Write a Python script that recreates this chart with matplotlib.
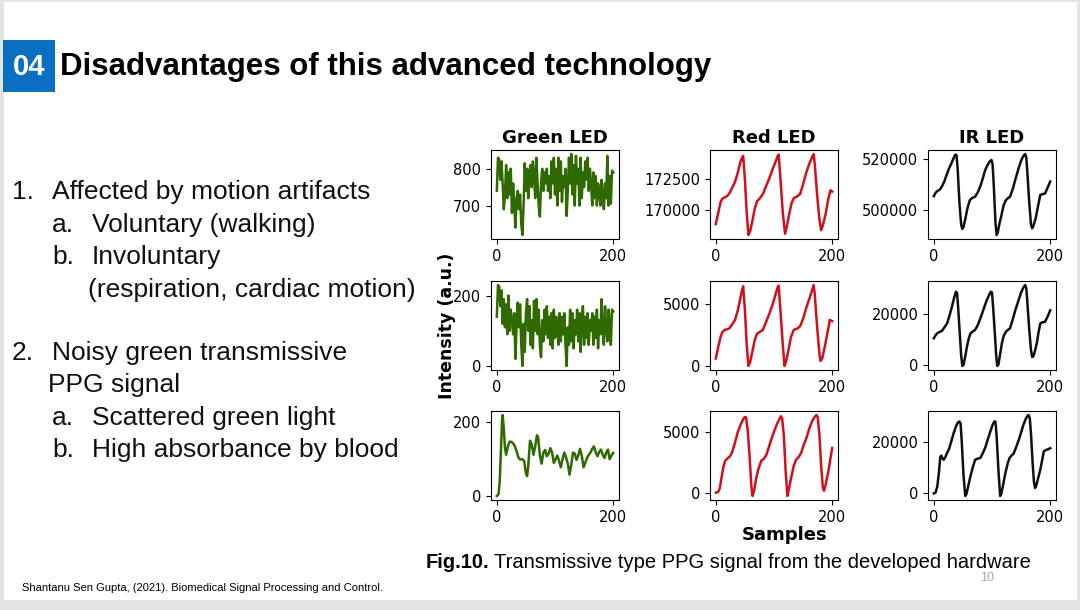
import numpy as np
import matplotlib
matplotlib.use("Agg")
import matplotlib.pyplot as plt
from matplotlib.patches import Rectangle

W, H = 1080, 610

# ---- data (sample index, intensity) ----
samples_green = list(range(0, 201, 2))
green_raw = [740, 830, 825, 770, 820, 760, 690, 730, 810, 720,
             790, 730, 800, 680, 760, 700, 640, 720, 740, 690,
             730, 650, 620, 700, 815, 740, 800, 720, 790, 810,
             750, 820, 780, 720, 830, 760, 700, 670, 760, 800,
             740, 790, 760, 800, 740, 780, 720, 820, 760, 830,
             730, 800, 700, 830, 740, 820, 710, 780, 750, 800,
             672, 740, 830, 760, 840, 730, 810, 700, 835, 760,
             800, 700, 830, 720, 790, 750, 820, 770, 830, 740,
             800, 760, 700, 790, 720, 780, 700, 760, 740, 700,
             770, 730, 690, 760, 720, 835, 700, 780, 705, 795, 790]
green_detrend = [140, 230, 225, 170, 215, 120, 190, 110, 175, 90,
                 200, 100, 160, 130, 90, 150, 20, 120, 180, 110,
                 175, 60, 0, 120, 40, 150, 190, 100, 170, 60,
                 130, 50, 185, 100, 190, 90, 160, 60, 25, 130,
                 70, 160, 90, 170, 80, 140, 60, 150, 50, 160,
                 80, 140, 100, 60, 150, 70, 140, 90, 150, 60,
                 0, 110, 60, 160, 70, 150, 50, 130, 90, 160,
                 70, 150, 40, 130, 170, 60, 140, 80, 150, 60,
                 130, 100, 150, 60, 140, 80, 160, 50, 130, 90,
                 190, 100, 60, 170, 110, 70, 160, 120, 60, 160, 155]
samples_green_f = [0, 3, 5, 7, 9, 10, 12, 14, 16, 19, 22, 25, 28, 31, 34, 37, 40, 44, 47, 50,
                   52, 54, 57, 60, 63, 66, 69, 71, 74, 77, 80, 83, 86, 89, 92, 95, 98, 101, 104, 107,
                   110, 113, 116, 119, 122, 125, 128, 131, 134, 137, 140, 143, 146, 149, 152, 155, 158,
                   161, 164, 167, 170, 173, 176, 179, 182, 185, 188, 191, 194, 197, 200]
green_filt = [0, 5, 40, 120, 205, 220, 185, 130, 112, 135, 148, 147, 143, 135, 122, 105, 99, 100, 95, 62,
              54, 80, 150, 140, 112, 135, 165, 160, 110, 88, 118, 125, 108, 115, 130, 118, 90, 100, 110, 95,
              78, 100, 118, 105, 88, 58, 85, 118, 115, 98, 110, 128, 110, 78, 90, 103, 112,
              118, 128, 135, 118, 108, 120, 126, 112, 103, 118, 126, 100, 110, 117]

samples_red_raw = [0, 4, 8, 11, 15, 20, 24, 29, 33, 38, 42, 45, 47, 50, 53, 56, 59, 63, 67, 71, 76, 81, 86,
                   92, 98, 103, 106, 108, 111, 115, 119, 122, 126, 130, 134, 140, 145, 150, 155, 160, 165,
                   168, 170, 174, 178, 181, 184, 189, 193, 197, 200]
red_raw = [168800, 169700, 170600, 170900, 171000, 171150, 171400, 171900, 172300, 173100, 173900,
           174300, 174450, 172500, 169800, 167900, 168200, 169100, 170100, 170700, 170950, 171300,
           171900, 172600, 173400, 174000, 174400, 174550, 172600, 169800, 168000, 168600, 169600,
           170500, 170950, 171100, 171300, 172100, 173000, 173700, 174300, 174600, 173800, 171300,
           169200, 168300, 168700, 169700, 170800, 171600, 171500]
samples_red_detrend = [0, 4, 8, 11, 15, 20, 24, 29, 33, 38, 42, 45, 47, 50, 53, 56, 59, 63, 67, 71, 76, 81,
                       86, 92, 98, 103, 106, 108, 111, 115, 118, 121, 125, 129, 134, 140, 145, 150, 155,
                       160, 165, 168, 170, 174, 178, 180, 183, 188, 192, 196, 200]
red_detrend = [600, 1500, 2300, 2700, 2900, 2950, 3050, 3400, 3700, 4500, 5400, 6100, 6400, 4500, 1800,
               0, 300, 1200, 2100, 2600, 2750, 2900, 3500, 4200, 5000, 5800, 6300, 6450, 4500, 1800,
               0, 400, 1300, 2300, 2900, 3000, 3200, 3800, 4600, 5300, 6000, 6500, 5800, 3200, 1000,
               400, 600, 1700, 2700, 3700, 3600]
samples_red_f = [0, 4, 7, 10, 13, 16, 20, 24, 28, 33, 38, 43, 47, 50, 52, 55, 58, 61, 63, 66, 69, 73, 78,
                 83, 87, 91, 95, 100, 105, 109, 112, 114, 117, 120, 123, 126, 130, 134, 138, 143, 147,
                 151, 156, 161, 166, 170, 173, 175, 178, 181, 184, 186, 189, 194, 197, 200]
red_filt = [0, 50, 400, 1300, 2100, 2600, 2800, 2950, 3300, 4100, 5000, 5600, 6000, 6200, 6150, 5000,
            3000, 600, -270, 200, 1080, 1900, 2600, 2800, 3100, 3700, 4300, 5000, 5600, 6000, 6250,
            6100, 4600, 1800, -270, 400, 1350, 2200, 2700, 2950, 3300, 3900, 4500, 5300, 5900, 6200,
            6350, 6200, 4800, 2200, 400, 150, 700, 1900, 2800, 3650]

samples_ir_raw = [0, 3, 6, 10, 14, 18, 22, 26, 30, 34, 37, 39, 41, 44, 47, 49, 51, 54, 58, 62, 66, 71, 76,
                  80, 84, 88, 92, 96, 99, 101, 103, 106, 108, 110, 113, 116, 120, 124, 128, 131, 136, 140,
                  145, 150, 154, 157, 159, 161, 164, 167, 169, 171, 175, 179, 183, 187, 191, 195, 200]
ir_raw = [505500, 506800, 507500, 508000, 509300, 511200, 513800, 516200, 518200, 520300, 521700,
          521500, 516000, 503000, 494500, 492700, 493500, 496500, 501000, 504000, 504800, 505300,
          507200, 509400, 512300, 515500, 517500, 519000, 519600, 518000, 510000, 495000, 490400,
          491500, 495000, 497800, 502000, 504000, 504800, 505300, 508500, 511900, 515800, 519300,
          521200, 521900, 520500, 514000, 503000, 494500, 493000, 493800, 496800, 501500, 506000,
          506300, 506500, 508500, 511200]
samples_ir_detrend = [0, 3, 6, 10, 14, 18, 23, 27, 31, 35, 38, 40, 42, 45, 47, 49, 51, 54, 57, 60, 63, 67,
                      71, 75, 79, 83, 87, 91, 95, 98, 100, 102, 105, 107, 109, 111, 114, 117, 120, 124,
                      128, 131, 135, 140, 145, 150, 154, 157, 159, 161, 164, 167, 169, 171, 174, 177,
                      180, 183, 187, 191, 195, 200]
ir_detrend = [10600, 11800, 12600, 13100, 13500, 14800, 16500, 19500, 22800, 26500, 28800, 28300, 22000,
              11000, 4000, -200, 200, 3500, 7400, 10500, 12500, 13300, 13900, 15500, 17800, 20300,
              23000, 25500, 27500, 28800, 28500, 22500, 12000, 4500, -200, 300, 4500, 8700, 11500,
              13200, 14000, 14500, 17500, 21500, 25000, 28500, 30500, 31400, 30000, 24000, 14000,
              6000, 3300, 3500, 5800, 8700, 13000, 16400, 16900, 17000, 18800, 21500]
samples_ir_f = [0, 3, 6, 9, 11, 13, 15, 17, 20, 23, 26, 30, 34, 38, 41, 44, 46, 48, 51, 54, 56, 59, 63,
                67, 71, 75, 80, 85, 89, 93, 97, 101, 104, 106, 108, 111, 114, 116, 119, 123, 127, 130,
                134, 137, 141, 146, 150, 154, 158, 161, 163, 165, 167, 170, 172, 174, 176, 179, 183,
                186, 189, 192, 194, 197, 200]
ir_filt = [-200, 100, 2500, 8400, 14000, 14500, 13300, 12900, 14000, 15700, 17000, 20000, 23200, 25800,
           27300, 27800, 27000, 20000, 7000, -1200, -500, 2500, 6500, 10000, 12900, 13300, 13600,
           15800, 18000, 21000, 23800, 26500, 27800, 27700, 22000, 9000, -1200, -400, 3000, 7700,
           11500, 13500, 14700, 15200, 17500, 20600, 23500, 26500, 28800, 30000, 30300, 29000,
           23000, 11000, 4500, 1900, 2700, 5500, 9000, 12500, 16100, 16600, 16800, 17000, 17400]

col_titles = ["Green LED", "Red LED", "IR LED"]
yticks_grid = [[[700, 800], [170000, 172500], [500000, 520000]],
               [[0, 200], [0, 5000], [0, 20000]],
               [[0, 200], [0, 5000], [0, 20000]]]
xticks = [0, 200]

bullets = [
    (12, 192, "1."), (52, 192, "Affected by motion artifacts"),
    (52, 225, "a."), (92, 225, "Voluntary (walking)"),
    (52, 257, "b."), (92, 257, "Involuntary"),
    (88, 290, "(respiration, cardiac motion)"),
    (12, 353, "2."), (52, 353, "Noisy green transmissive"),
    (48, 385, "PPG signal"),
    (52, 418, "a."), (92, 418, "Scattered green light"),
    (52, 450, "b."), (92, 450, "High absorbance by blood"),
]

series = [
    [(samples_green, green_raw), (samples_red_raw, red_raw), (samples_ir_raw, ir_raw)],
    [(samples_green, green_detrend), (samples_red_detrend, red_detrend), (samples_ir_detrend, ir_detrend)],
    [(samples_green_f, green_filt), (samples_red_f, red_filt), (samples_ir_f, ir_filt)],
]
colors = ["#2e6a00", "#d0101c", "#111111"]


def fx(px):
    return px / W


def fy(py):
    return 1 - py / H


fig = plt.figure(figsize=(W / 100, H / 100), dpi=100)
fig.patch.set_facecolor("#e4e4e4")
# white slide area
fig.add_artist(Rectangle((fx(4), fy(600)), fx(1077) - fx(4), fy(2) - fy(600),
                         transform=fig.transFigure, facecolor="white", edgecolor="none", zorder=0))

# header
fig.add_artist(Rectangle((fx(3), fy(92)), fx(55) - fx(3), fy(40) - fy(92),
                         transform=fig.transFigure, facecolor="#0a6fc2", edgecolor="none", zorder=1))
fig.text(fx(29), fy(67), "04", color="white", fontsize=21, fontweight="bold",
         family="Liberation Sans", ha="center", va="center")
fig.text(fx(60), fy(67), "Disadvantages of this advanced technology", color="black", fontsize=22.5,
         fontweight="bold", family="Liberation Sans", ha="left", va="center")

for x, y, s in bullets:
    fig.text(fx(x), fy(y), s, fontsize=19, family="Liberation Sans", ha="left", va="center", color="#111111")

# grid of subplots
col_left = [491, 710, 928]
row_top = [150, 281, 411]
aw, ah = 128, 89
for r in range(3):
    for c in range(3):
        ax = fig.add_axes([fx(col_left[c]), fy(row_top[r] + ah), aw / W, ah / H])
        xs, ys = series[r][c]
        ax.plot(xs, ys, color=colors[c], lw=1.8)
        ax.set_xticks(xticks)
        ax.set_yticks(yticks_grid[r][c])
        ax.ticklabel_format(axis="y", useOffset=False, style="plain")
        ax.tick_params(labelsize=10.5)
        if r == 0:
            ax.set_title(col_titles[c], fontsize=13, fontweight="bold", pad=5)

fig.text(fx(447), fy(326), "Intensity (a.u.)", rotation=90, fontsize=12.5, fontweight="bold",
         ha="center", va="center")
fig.text(fx(785), fy(535), "Samples", fontsize=13, fontweight="bold", ha="center", va="center")

# caption
cap_b = fig.text(fx(426), fy(563), "Fig.10.", fontsize=14.5, fontweight="bold",
                 family="Liberation Sans", ha="left", va="center")
fig.canvas.draw()
bb = cap_b.get_window_extent(renderer=fig.canvas.get_renderer())
fig.text(fx(bb.x1 + 4), fy(563), "Transmissive type PPG signal from the developed hardware", fontsize=14.5,
         family="Liberation Sans", ha="left", va="center")
fig.text(fx(987), fy(578), "10", fontsize=9, color="#a6a6a6", family="Liberation Sans",
         ha="center", va="center")
fig.text(fx(22), fy(588), "Shantanu Sen Gupta, (2021). Biomedical Signal Processing and Control.", fontsize=8,
         family="Liberation Sans", ha="left", va="center")

fig.savefig("out.png", dpi=100, facecolor=fig.get_facecolor())
